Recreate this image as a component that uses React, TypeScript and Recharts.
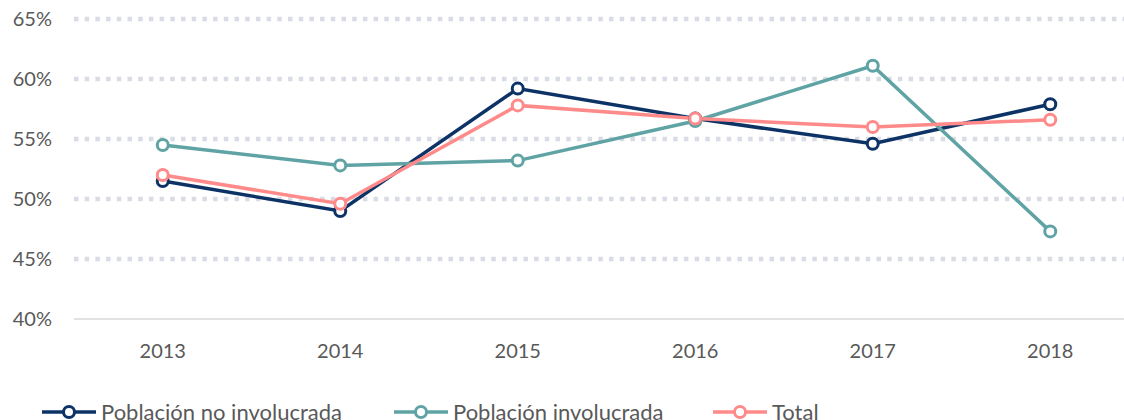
import { LineChart, Line, XAxis, YAxis, CartesianGrid } from 'recharts';

// Años (eje X)
const years = ['2013', '2014', '2015', '2016', '2017', '2018'];

// Valores (%)
const noInvolucrada = [51.5, 49.0, 59.2, 56.7, 54.6, 57.9];
const involucrada = [54.5, 52.8, 53.2, 56.5, 61.1, 47.3];
const total = [52.0, 49.6, 57.8, 56.7, 56.0, 56.6];

const yTicks = [40, 45, 50, 55, 60, 65];
const gridValues = [45, 50, 55, 60, 65];

const seriesNames = ['Población no involucrada', 'Población involucrada', 'Total'];
const seriesColors = ['#0d3366', '#5fa3a4', '#ff8a8a'];

const FONT = 'Lato, "Open Sans", sans-serif';
const TEXT_COLOR = '#595959';

const chartData = years.map((year, i) => ({
  year,
  noInv: noInvolucrada[i],
  inv: involucrada[i],
  total: total[i],
}));

const seriesKeys = ['noInv', 'inv', 'total'];

// Leyenda propia: línea con marcador circular
function LegendItem({ name, color, left }: { name: string; color: string; left: number }) {
  return (
    <div
      style={{
        position: 'absolute',
        left,
        top: 400,
        display: 'flex',
        alignItems: 'center',
        height: 24,
      }}
    >
      <svg width={54} height={24} style={{ display: 'block' }}>
        <line x1={0} y1={12} x2={54} y2={12} stroke={color} strokeWidth={3.5} />
        <circle cx={27} cy={12} r={5.5} fill="#fff" stroke={color} strokeWidth={3} />
      </svg>
      <span
        style={{
          fontFamily: FONT,
          fontSize: 22,
          color: TEXT_COLOR,
          marginLeft: 5,
          whiteSpace: 'nowrap',
          lineHeight: '24px',
        }}
      >
        {name}
      </span>
    </div>
  );
}

const legendLefts = [42, 394, 713];

export default function App() {
  const tickStyle = { fill: TEXT_COLOR, fontSize: 20, fontFamily: FONT };

  return (
    <div
      style={{
        position: 'absolute',
        left: 0,
        top: 0,
        width: 1124,
        height: 420,
        overflow: 'hidden',
        background: '#fff',
      }}
    >
      <LineChart
        width={1140}
        height={420}
        data={chartData}
        margin={{ top: 19, right: 1, bottom: 51, left: 0 }}
      >
        <CartesianGrid
          vertical={false}
          horizontalValues={gridValues}
          stroke="#d9dce4"
          strokeWidth={4.5}
          strokeDasharray="4.5 6.2"
        />
        <XAxis
          dataKey="year"
          axisLine={{ stroke: '#d9d9d9', strokeWidth: 1.5 }}
          tickLine={false}
          tickSize={0}
          tickMargin={25}
          tick={tickStyle}
          height={50}
          interval={0}
          padding={{ left: 88.75, right: 88.75 }}
        />
        <YAxis
          type="number"
          domain={[40, 65]}
          ticks={yTicks}
          tickFormatter={(v: number) => `${v}%`}
          axisLine={false}
          tickLine={false}
          tickSize={0}
          tickMargin={22}
          tick={tickStyle}
          width={74}
        />
        {seriesKeys.map((key, i) => (
          <Line
            key={key}
            type="linear"
            dataKey={key}
            name={seriesNames[i]}
            stroke={seriesColors[i]}
            strokeWidth={3.5}
            dot={{ r: 5.5, fill: '#fff', stroke: seriesColors[i], strokeWidth: 3 }}
            activeDot={false}
            isAnimationActive={false}
          />
        ))}
      </LineChart>
      {seriesNames.map((name, i) => (
        <LegendItem key={name} name={name} color={seriesColors[i]} left={legendLefts[i]} />
      ))}
    </div>
  );
}
